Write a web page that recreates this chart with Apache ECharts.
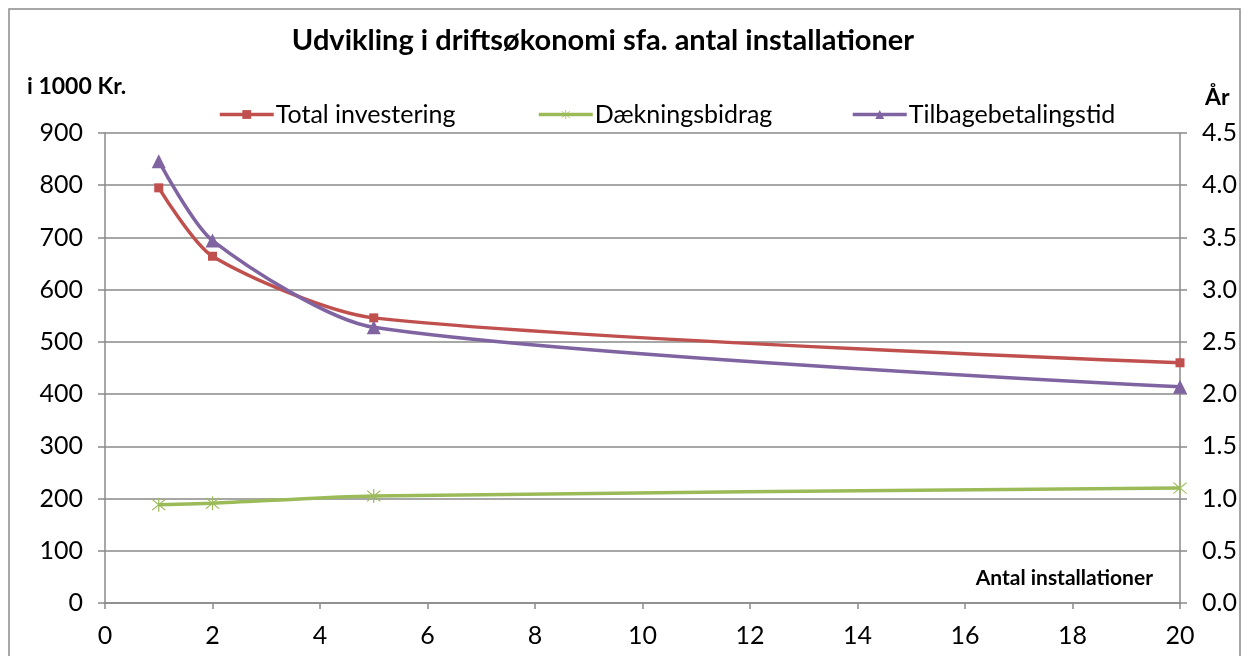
<!DOCTYPE html>
<html>
<head>
<meta charset="utf-8">
<script src="https://cdn.jsdelivr.net/npm/echarts@6/dist/echarts.min.js"></script>
<style>
  html, body { margin: 0; padding: 0; background: #fff; }
  #main { width: 1249px; height: 656px; }
</style>
</head>
<body>
<div id="main"></div>
<script>
  // data
  var antal = [1, 2, 5, 20];
  var totalInvestering = [795, 664, 546, 460];
  var daekningsbidrag = [188, 191, 205, 220];
  var tilbagebetalingstid = [4.23, 3.47, 2.64, 2.07];

  function pairs(xs, ys) {
    return xs.map(function (x, i) { return [x, ys[i]]; });
  }

  var font = 'Lato, "Open Sans", sans-serif';
  var grey = '#8a8a8a';
  // asterisk marker (x with a vertical bar)
  var starPath = 'path://M-0.7,-10L0.7,-10L0.7,10L-0.7,10Z' +
    'M-8.2,-7.2L-7.2,-8.2L8.2,7.2L7.2,8.2Z' +
    'M7.2,-8.2L8.2,-7.2L-7.2,8.2L-8.2,7.2Z';

  var myChart = echarts.init(document.getElementById('main'));

  var option = {
    backgroundColor: '#fff',
    animation: false,
    title: {
      text: 'Udvikling i driftsøkonomi sfa. antal installationer',
      left: 598, top: 21, textAlign: 'center',
      textStyle: { fontFamily: font, fontSize: 29, fontWeight: 'bold', color: '#000' }
    },
    legend: [
      { data: ['Total investering'], left: 213, top: 97 },
      { data: ['Dækningsbidrag'], left: 532, top: 97 },
      { data: ['Tilbagebetalingstid'], left: 846, top: 97 }
    ].map(function (l) {
      l.itemWidth = 54; l.itemHeight = 11; l.itemGap = 0;
      l.lineStyle = { width: 3.5 };
      l.textStyle = { fontFamily: font, fontSize: 25, color: '#000', padding: [0, 0, 0, -3] };
      return l;
    }),
    grid: { left: 105, right: 69, top: 133, bottom: 53 },
    xAxis: {
      type: 'value', min: 0, max: 20, interval: 2,
      axisLine: { lineStyle: { color: grey, width: 1.5 } },
      axisTick: { show: true, length: 6, lineStyle: { color: grey, width: 1.5 } },
      splitLine: { show: false },
      axisLabel: { fontFamily: font, fontSize: 25, color: '#000', margin: 20 }
    },
    yAxis: [
      {
        type: 'value', min: 0, max: 900, interval: 100,
        axisLine: { show: true, lineStyle: { color: grey, width: 1.5 } },
        axisTick: { show: true, length: 7, lineStyle: { color: grey, width: 1.5 } },
        splitLine: { show: true, lineStyle: { color: grey, width: 1.5 } },
        axisLabel: { fontFamily: font, fontSize: 25, color: '#000', margin: 22 }
      },
      {
        type: 'value', min: 0, max: 4.5, interval: 0.5,
        axisLine: { show: true, lineStyle: { color: grey, width: 1.5 } },
        axisTick: { show: true, length: 7, lineStyle: { color: grey, width: 1.5 } },
        splitLine: { show: false },
        axisLabel: {
          fontFamily: font, fontSize: 25, color: '#000', margin: 22,
          formatter: function (v) { return v.toFixed(1); }
        }
      }
    ],
    series: [
      {
        name: 'Total investering', type: 'line', smooth: 0.25,
        data: pairs(antal, totalInvestering),
        symbol: 'rect', symbolSize: 9,
        itemStyle: { color: '#c0504d' },
        lineStyle: { color: '#c0504d', width: 3.5 }
      },
      {
        name: 'Dækningsbidrag', type: 'line', smooth: 0.25,
        data: pairs(antal, daekningsbidrag),
        symbol: starPath, symbolSize: 14,
        itemStyle: { color: '#9bbb59' },
        lineStyle: { color: '#9bbb59', width: 3.5 }
      },
      {
        name: 'Tilbagebetalingstid', type: 'line', smooth: 0.25, yAxisIndex: 1,
        data: pairs(antal, tilbagebetalingstid),
        symbol: 'triangle', symbolSize: 14,
        itemStyle: { color: '#8064a2' },
        lineStyle: { color: '#8064a2', width: 3.5 }
      }
    ],
    graphic: [
      {
        type: 'rect', silent: true, z: -1,
        shape: { x: 9, y: 9, width: 1231, height: 660 },
        style: { fill: null, stroke: grey, lineWidth: 1.5 }
      },
      {
        type: 'text', left: 27, top: 75,
        style: { text: 'i 1000 Kr.', fontFamily: font, fontSize: 23, fontWeight: 'bold', fill: '#000' }
      },
      {
        type: 'text', left: 1205, top: 86,
        style: { text: 'År', fontFamily: font, fontSize: 23, fontWeight: 'bold', fill: '#000' }
      },
      {
        type: 'text', right: 96, top: 568,
        style: { text: 'Antal installationer', fontFamily: font, fontSize: 21, fontWeight: 'bold', fill: '#000' }
      }
    ]
  };

  myChart.setOption(option);
</script>
</body>
</html>
